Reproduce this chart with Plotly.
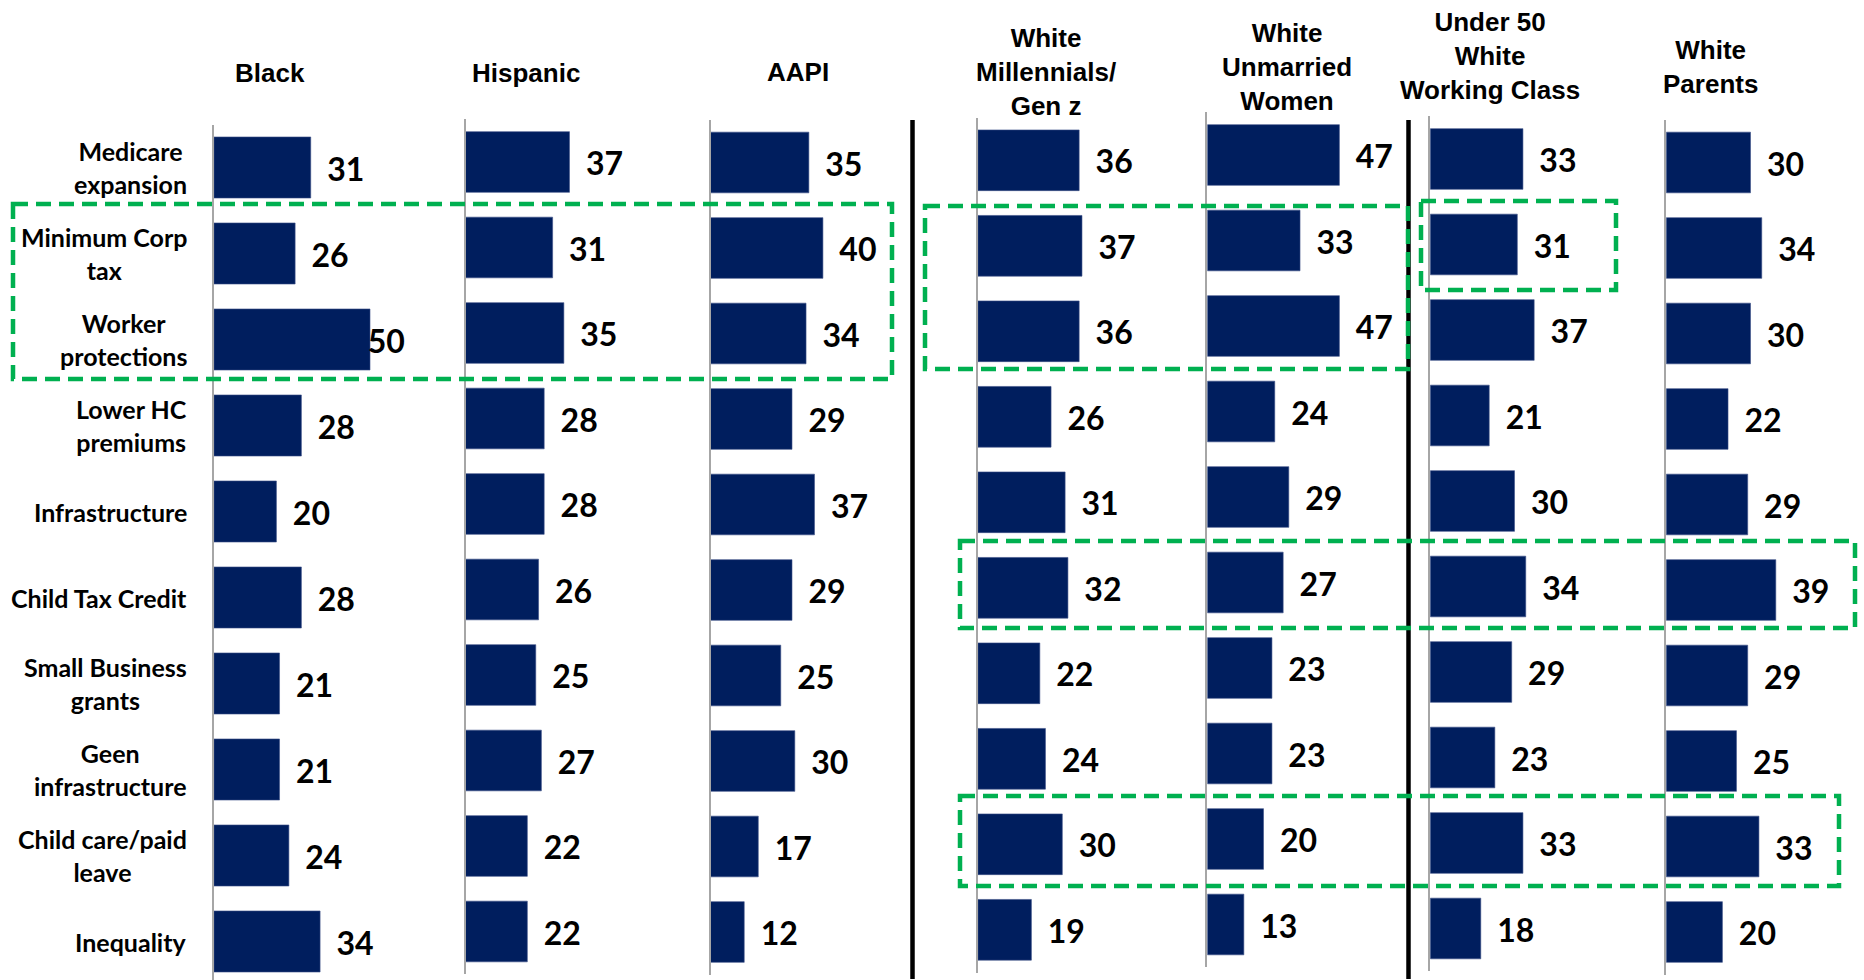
import plotly.graph_objects as go

# ---------------- data ----------------
categories = ["Medicare<br>expansion", "Minimum Corp<br>tax", "Worker<br>protections",
              "Lower HC<br>premiums", "Infrastructure", "Child Tax Credit",
              "Small Business<br>grants", "Geen<br>infrastructure",
              "Child care/paid<br>leave", "Inequality"]

groups = ["Black", "Hispanic", "AAPI", "White<br>Millennials/<br>Gen z",
          "White<br>Unmarried<br>Women", "Under 50<br>White<br>Working Class",
          "White<br>Parents"]

black = [31, 26, 50, 28, 20, 28, 21, 21, 24, 34]
hispanic = [37, 31, 35, 28, 28, 26, 25, 27, 22, 22]
aapi = [35, 40, 34, 29, 37, 29, 25, 30, 17, 12]
white_millennials = [36, 37, 36, 26, 31, 32, 22, 24, 30, 19]
white_unmarried_women = [47, 33, 47, 24, 29, 27, 23, 23, 20, 13]
under50_white_wc = [33, 31, 37, 21, 30, 34, 29, 23, 33, 18]
white_parents = [30, 34, 30, 22, 29, 39, 29, 25, 33, 20]

series = [black, hispanic, aapi, white_millennials, white_unmarried_women,
          under50_white_wc, white_parents]

# ---------------- layout geometry (pixels) ----------------
W, H = 1864, 980
def px(x):
    return x / W
def py(y):
    return 1 - y / H

NAVY = "#001E5E"
GREEN = "#00B050"
AXIS_GRAY = "#A6A6A6"

# per panel: axis x (px), px per unit, x max (units), first row centre (px), row spacing (px)
panels = [
    dict(ax=214.0, scale=3.12, xmax=61, c1=167.5, s=86.0),
    dict(ax=465.5, scale=2.81, xmax=70, c1=162.0, s=85.5),
    dict(ax=710.5, scale=2.81, xmax=70, c1=162.5, s=85.5),
    dict(ax=978.0, scale=2.81, xmax=70, c1=160.3, s=85.5),
    dict(ax=1207.3, scale=2.81, xmax=70, c1=155.0, s=85.5),
    dict(ax=1430.2, scale=2.81, xmax=70, c1=159.0, s=85.5),
    dict(ax=1666.2, scale=2.81, xmax=70, c1=162.5, s=85.5),
]

header_pos = [(270, 72.5), (525.5, 73.5), (798, 72), (1046, 71.5),
              (1287, 67.3), (1489.5, 55.7), (1710, 67)]

LABEL_OFFSET = 35   # px from bar end to centre of the value label
LABEL_HALF = 18     # half width of a two-digit label (px)
LABEL_DROP = 5      # px the value labels sit below the bar centre line

fig = go.Figure()
layout = dict(width=W, height=H, margin=dict(l=0, r=0, t=0, b=0),
              paper_bgcolor="white", plot_bgcolor="white", showlegend=False)

idx = list(range(len(categories)))

for i, (vals, p) in enumerate(zip(series, panels)):
    n = "" if i == 0 else str(i + 1)
    xa, ya = "x" + n, "y" + n
    top = p["c1"] - p["s"] / 2
    bottom = min(p["c1"] + (len(categories) - 0.5) * p["s"], H)
    r_bottom = -0.5 + (bottom - top) / p["s"]
    layout["xaxis" + n] = dict(domain=[px(p["ax"]), min(1, px(p["ax"] + p["xmax"] * p["scale"]))],
                               range=[0, p["xmax"]], anchor=ya, showgrid=False,
                               zeroline=False, showticklabels=False, showline=False,
                               fixedrange=True)
    layout["yaxis" + n] = dict(domain=[py(bottom), py(top)], range=[r_bottom, -0.5],
                               anchor=xa, showgrid=False, zeroline=False,
                               showticklabels=False, ticks="", showline=True,
                               linecolor=AXIS_GRAY, linewidth=2, fixedrange=True)
    fig.add_trace(go.Bar(x=vals, y=idx, orientation="h", width=0.71,
                         marker=dict(color=NAVY, line=dict(width=0.6, color="#3A4F86")),
                         xaxis=xa, yaxis=ya, hoverinfo="skip"))
    off = LABEL_OFFSET / p["scale"]
    half = LABEL_HALF / p["scale"]
    lx = [min(v + off, p["xmax"] - half) for v in vals]
    ly = [j + LABEL_DROP / p["s"] for j in idx]
    fig.add_trace(go.Scatter(x=lx, y=ly, mode="text", text=[str(v) for v in vals],
                             textposition="middle center", cliponaxis=False,
                             textfont=dict(family="Lato", size=32, color="black", weight="bold"),
                             xaxis=xa, yaxis=ya, hoverinfo="skip"))

annotations = []
# category labels, aligned with the first panel rows
for j, c in enumerate(categories):
    annotations.append(dict(x=px(189), y=j, xref="paper", yref="y", text=c,
                            showarrow=False, xanchor="right", yanchor="middle",
                            align="center",
                            font=dict(family="Lato", size=25, color="black", weight="bold")))
# group headers
for g, (hx, hy) in zip(groups, header_pos):
    annotations.append(dict(x=px(hx), y=py(hy), xref="paper", yref="paper", text=g,
                            showarrow=False, xanchor="center", yanchor="middle",
                            align="center",
                            font=dict(family="Liberation Sans, Arial", size=26,
                                      color="black", weight="bold")))
layout["annotations"] = annotations

shapes = []
# vertical separators
for sx in (912.5, 1408.5):
    shapes.append(dict(type="line", xref="paper", yref="paper", x0=px(sx), x1=px(sx),
                       y0=py(120), y1=py(979), line=dict(color="black", width=4.5)))
# green dashed highlight boxes
boxes = [(13, 204, 892, 379), (925, 206, 1408, 369), (1421, 201, 1616, 290),
         (960, 541, 1855, 628), (960, 796, 1839, 886)]
for (x0, y0, x1, y1) in boxes:
    shapes.append(dict(type="rect", xref="paper", yref="paper", x0=px(x0), x1=px(x1),
                       y0=py(y0), y1=py(y1),
                       line=dict(color=GREEN, width=4.5, dash="15px,8px")))
layout["shapes"] = shapes

fig.update_layout(**layout)
fig.write_html("out.html", config={"displayModeBar": False},
               post_script="document.body.style.margin='0';document.body.style.overflow='hidden';")
